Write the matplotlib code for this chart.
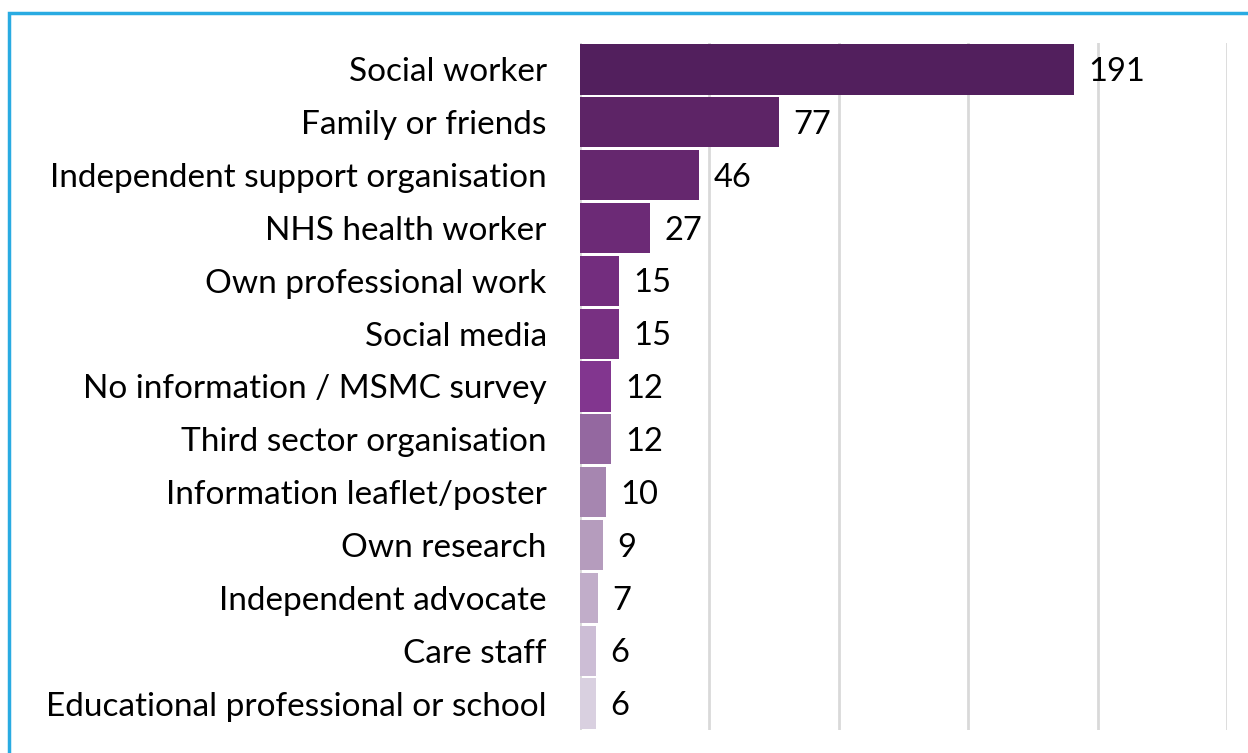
import matplotlib.pyplot as plt
from matplotlib.patches import Rectangle

# Sources of information, counts of respondents
sources = [
    "Social worker",
    "Family or friends",
    "Independent support organisation",
    "NHS health worker",
    "Own professional work",
    "Social media",
    "No information / MSMC survey",
    "Third sector organisation",
    "Information leaflet/poster",
    "Own research",
    "Independent advocate",
    "Care staff",
    "Educational professional or school",
]
counts = [191, 77, 46, 27, 15, 15, 12, 12, 10, 9, 7, 6, 6]

bar_colours = [
    "#521f5d", "#5d2466", "#65276e", "#6c2a76", "#732d7e", "#783082",
    "#82368f", "#9468a0", "#a686b0", "#b59cbd", "#c1adc9", "#ccbdd5",
    "#d9d0e0",
]

plt.rcParams['font.family'] = ['Lato', 'DejaVu Sans']

fig = plt.figure(figsize=(12.48, 7.53), dpi=100)
ax = fig.add_axes([580 / 1248, 1 - 730 / 753, (1227 - 580) / 1248, (730 - 43) / 753])

y = list(range(len(sources)))
ax.barh(y, counts, height=0.95, color=bar_colours, zorder=2)
for yi, v in zip(y, counts):
    ax.text(v + 5.5, yi + 0.05, str(v), va='center', ha='left', fontsize=23.5, color='black')

ax.set_xlim(0, 250)
ax.set_ylim(len(sources) - 0.5, -0.5)
ax.set_yticks(y)
ax.set_yticklabels(sources, fontsize=24)
ax.set_xticks([0, 50, 100, 150, 200, 250])
ax.tick_params(axis='x', labelbottom=False, length=0)
ax.tick_params(axis='y', length=0, pad=24)
ax.xaxis.grid(True, color='#d9d9d9', linewidth=2)
ax.set_axisbelow(True)
for s in ax.spines.values():
    s.set_visible(False)

# blue frame around the chart
fig.patches.append(Rectangle((9 / 1248, -0.1), 1.2, 1 - 13 / 753 + 0.1, transform=fig.transFigure,
                             fill=False, edgecolor='#29abe2', linewidth=2.5))

fig.savefig("out.png", dpi=100)
